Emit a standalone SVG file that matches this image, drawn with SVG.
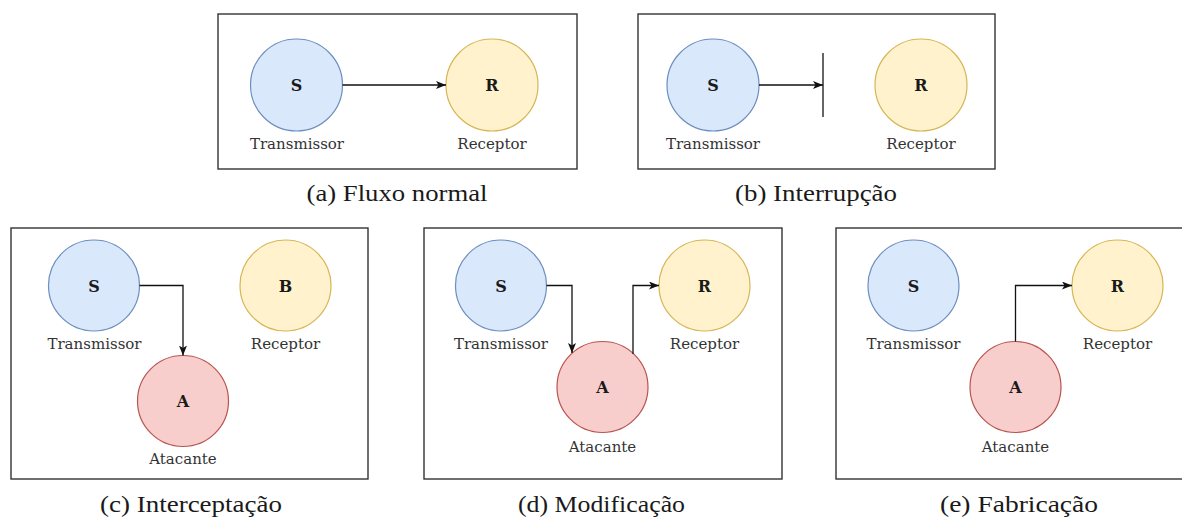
<svg xmlns="http://www.w3.org/2000/svg" width="1182" height="519" viewBox="0 0 1182 519">
  <style>
    .frame { fill: #ffffff; stroke: #333333; stroke-width: 1.4; }
    .tx { fill: #dae8fc; stroke: #6c8ebf; stroke-width: 1.2; }
    .rx { fill: #fff2cc; stroke: #d6b656; stroke-width: 1.2; }
    .at { fill: #f8cecc; stroke: #b85450; stroke-width: 1.2; }
    text.letter { font-family: DejaVu Serif, Noto Serif, Liberation Serif, serif; font-weight: bold; font-size: 16px; fill: #1a1a1a; text-anchor: middle; }
    text.name { font-family: DejaVu Serif, Noto Serif, Liberation Serif, serif; font-size: 15px; fill: #333333; text-anchor: middle; }
    text.caption { font-family: Liberation Serif, Tinos, Noto Serif, DejaVu Serif, serif; font-size: 23px; fill: #1a1a1a; text-anchor: middle; }
    .edge { fill: none; stroke: #111111; stroke-width: 1.3; }
    .block { fill: none; stroke: #333333; stroke-width: 1.5; }
  </style>
  <defs>
    <marker id="arrow" viewBox="0 0 10 8" markerUnits="userSpaceOnUse" markerWidth="10" markerHeight="8" refX="10" refY="4" orient="auto">
      <path d="M0,0 L10,4 L0,8 L2.5,4 z" fill="#111111"/>
    </marker>
  </defs>

  <rect width="1182" height="519" fill="#ffffff"/>

  <!-- panel frames -->
  <g id="frames">
    <rect class="frame" x="218" y="14" width="359" height="155"/>
    <rect class="frame" x="638" y="14" width="357" height="155"/>
    <rect class="frame" x="11" y="228" width="357" height="251"/>
    <rect class="frame" x="424" y="228" width="358" height="251"/>
    <rect class="frame" x="836" y="228" width="358" height="251"/>
  </g>

  <!-- (a) normal flow -->
  <g id="a-transmissor">
    <circle class="tx" cx="296.5" cy="85" r="46"/>
    <text class="letter" x="296.5" y="91">S</text>
    <text class="name" x="297" y="149">Transmissor</text>
  </g>
  <g id="a-receptor">
    <circle class="rx" cx="492" cy="85" r="46"/>
    <text class="letter" x="492" y="91">R</text>
    <text class="name" x="492" y="149">Receptor</text>
  </g>

  <!-- (b) interruption -->
  <g id="b-transmissor">
    <circle class="tx" cx="713" cy="85" r="46"/>
    <text class="letter" x="713" y="91">S</text>
    <text class="name" x="713" y="149">Transmissor</text>
  </g>
  <g id="b-receptor">
    <circle class="rx" cx="921" cy="85" r="46"/>
    <text class="letter" x="921" y="91">R</text>
    <text class="name" x="921" y="149">Receptor</text>
  </g>
  <g id="b-barrier">
    <line class="block" x1="823" y1="53" x2="823" y2="117"/>
  </g>

  <!-- (c) interception -->
  <g id="c-transmissor">
    <circle class="tx" cx="94" cy="285.5" r="45.5"/>
    <text class="letter" x="94" y="291.5">S</text>
    <text class="name" x="94.5" y="348.5">Transmissor</text>
  </g>
  <g id="c-receptor">
    <circle class="rx" cx="285.5" cy="285.5" r="45.5"/>
    <text class="letter" x="285.5" y="291.5">B</text>
    <text class="name" x="285.5" y="348.5">Receptor</text>
  </g>
  <g id="c-atacante">
    <circle class="at" cx="183" cy="401" r="45.5"/>
    <text class="letter" x="183" y="407">A</text>
    <text class="name" x="183" y="464">Atacante</text>
  </g>

  <!-- (d) modification -->
  <g id="d-transmissor">
    <circle class="tx" cx="501" cy="285.5" r="45.5"/>
    <text class="letter" x="501" y="291.5">S</text>
    <text class="name" x="501" y="348.5">Transmissor</text>
  </g>
  <g id="d-receptor">
    <circle class="rx" cx="704.5" cy="285.5" r="45.5"/>
    <text class="letter" x="704.5" y="291.5">R</text>
    <text class="name" x="704.5" y="348.5">Receptor</text>
  </g>
  <g id="d-atacante">
    <circle class="at" cx="602.5" cy="387" r="45.5"/>
    <text class="letter" x="602.5" y="393">A</text>
    <text class="name" x="602.5" y="451.5">Atacante</text>
  </g>

  <!-- (e) fabrication -->
  <g id="e-transmissor">
    <circle class="tx" cx="913.5" cy="285.5" r="45.5"/>
    <text class="letter" x="913.5" y="291.5">S</text>
    <text class="name" x="913.5" y="348.5">Transmissor</text>
  </g>
  <g id="e-receptor">
    <circle class="rx" cx="1117.5" cy="285.5" r="45.5"/>
    <text class="letter" x="1117.5" y="291.5">R</text>
    <text class="name" x="1117.5" y="348.5">Receptor</text>
  </g>
  <g id="e-atacante">
    <circle class="at" cx="1015.5" cy="387" r="45.5"/>
    <text class="letter" x="1015.5" y="393">A</text>
    <text class="name" x="1015.5" y="451.5">Atacante</text>
  </g>

  <!-- connectors -->
  <g id="connectors">
    <path class="edge" d="M342.5,85 H446" marker-end="url(#arrow)"/>
    <path class="edge" d="M759,85 H823" marker-end="url(#arrow)"/>
    <path class="edge" d="M139.5,285.5 H183 V355.5" marker-end="url(#arrow)"/>
    <path class="edge" d="M546.5,285.5 H572 V353" marker-end="url(#arrow)"/>
    <path class="edge" d="M633,354 V285.5 H659" marker-end="url(#arrow)"/>
    <path class="edge" d="M1015.5,341.5 V285.5 H1072" marker-end="url(#arrow)"/>
  </g>

  <!-- captions -->
  <g id="captions">
    <text class="caption" x="397" y="201" textLength="181" lengthAdjust="spacingAndGlyphs">(a) Fluxo normal</text>
    <text class="caption" x="816" y="201" textLength="162" lengthAdjust="spacingAndGlyphs">(b) Interrupção</text>
    <text class="caption" x="191" y="512" textLength="182" lengthAdjust="spacingAndGlyphs">(c) Interceptação</text>
    <text class="caption" x="601.5" y="512" textLength="167" lengthAdjust="spacingAndGlyphs">(d) Modificação</text>
    <text class="caption" x="1019" y="512" textLength="158" lengthAdjust="spacingAndGlyphs">(e) Fabricação</text>
  </g>
</svg>
